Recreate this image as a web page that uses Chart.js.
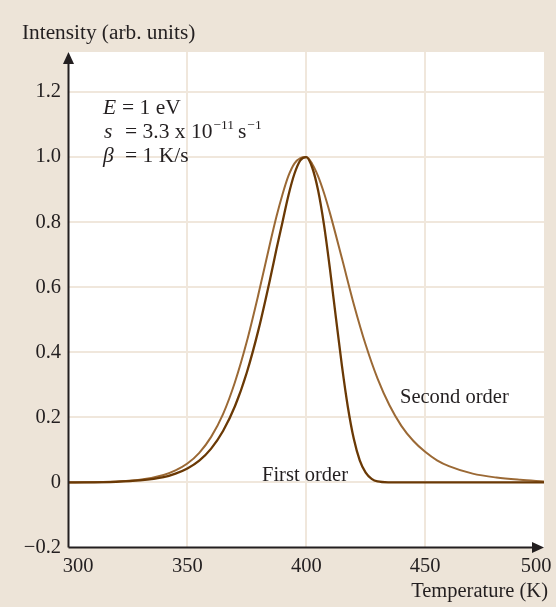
<!DOCTYPE html>
<html>
<head>
<meta charset="utf-8">
<script src="https://cdn.jsdelivr.net/npm/chart.js@4.4.1/dist/chart.umd.min.js"></script>
<style>
  body { margin: 0; background: #ede4d8; }
  #wrap { width: 556px; height: 607px; }
</style>
</head>
<body>
<div id="wrap"><canvas id="glow" width="556" height="607"></canvas></div>
<script>
// glow curves, E = 1 eV, beta = 1 K/s
var firstTemps = [300, 320, 330, 340, 345, 350, 355, 360, 365, 370, 375, 380, 385, 387.5, 390, 392.5, 395, 397.5, 400,
                  402.5, 405, 407.5, 410, 412.5, 415, 417.5, 420, 422.5, 425, 427.5, 430, 435, 440, 500];
var firstOrder = [0, 0.002, 0.006, 0.016, 0.027, 0.043, 0.067, 0.104, 0.158, 0.234, 0.338, 0.472, 0.632, 0.718, 0.80, 0.882, 0.948, 0.99, 1.0,
                  0.968, 0.897, 0.790, 0.654, 0.505, 0.359, 0.232, 0.134, 0.068, 0.030, 0.011, 0.003, 0.0002, 0, 0];

var secondTemps = [300, 320, 330, 340, 345, 350, 355, 360, 365, 370, 375, 380, 385, 387.5, 390, 392.5, 395, 397.5, 400,
                   402.5, 405, 407.5, 410, 415, 420, 425, 430, 435, 440, 445, 450, 455, 460, 470, 480, 490, 500];
var secondOrder = [0, 0.003, 0.008, 0.023, 0.037, 0.058, 0.091, 0.140, 0.210, 0.308, 0.433, 0.582, 0.742, 0.818, 0.885, 0.942, 0.980, 0.997, 1.0,
                   0.979, 0.941, 0.889, 0.827, 0.689, 0.548, 0.423, 0.319, 0.237, 0.174, 0.128, 0.094, 0.068, 0.050, 0.027, 0.015, 0.008, 0.003];

var xTicks = [300, 350, 400, 450, 500];

var beige = '#ede4d8';
var gridColor = '#f0e7dc';
var ink = '#231f20';
var serif = '"Liberation Serif", "DejaVu Serif", serif';

function toPoints(xs, ys) {
    var pts = [];
    for (i = 0; i < xs.length; i++) {
        pts.push({x: xs[i], y: ys[i]});
    }
    return pts;
}

var framePlugin = {
    id: 'frame',
    beforeDraw: function(chart) {
        var ctx = chart.ctx, a = chart.chartArea;
        ctx.save();
        ctx.fillStyle = beige;
        ctx.fillRect(0, 0, chart.width, chart.height);
        ctx.fillStyle = '#ffffff';
        ctx.fillRect(a.left, a.top, a.right - a.left, a.bottom - a.top);
        ctx.restore();
    },
    afterDraw: function(chart) {
        var ctx = chart.ctx, a = chart.chartArea;
        var xs = chart.scales.x;
        ctx.save();
        // axes with arrows
        ctx.strokeStyle = ink;
        ctx.fillStyle = ink;
        ctx.lineWidth = 2;
        ctx.beginPath();
        ctx.moveTo(a.left, a.bottom);
        ctx.lineTo(a.left, a.top + 8);
        ctx.moveTo(a.left, a.bottom);
        ctx.lineTo(a.right - 8, a.bottom);
        ctx.stroke();
        ctx.beginPath();
        ctx.moveTo(a.left, a.top);
        ctx.lineTo(a.left - 5.5, a.top + 12);
        ctx.lineTo(a.left + 5.5, a.top + 12);
        ctx.closePath();
        ctx.fill();
        ctx.beginPath();
        ctx.moveTo(a.right, a.bottom);
        ctx.lineTo(a.right - 12, a.bottom - 5.5);
        ctx.lineTo(a.right - 12, a.bottom + 5.5);
        ctx.closePath();
        ctx.fill();

        // x tick labels (end ones pulled inwards like the original)
        ctx.font = '20.5px ' + serif;
        ctx.textAlign = 'center';
        ctx.textBaseline = 'alphabetic';
        for (i = 0; i < xTicks.length; i++) {
            var px = xs.getPixelForValue(xTicks[i]);
            if (i == 0) px += 9.5;
            if (i == xTicks.length - 1) px -= 8;
            ctx.fillText(String(xTicks[i]), px, 572);
        }

        // axis titles
        ctx.textAlign = 'left';
        ctx.font = '21.3px ' + serif;
        ctx.fillText('Intensity (arb. units)', 22, 39);
        ctx.font = '20.5px ' + serif;
        ctx.textAlign = 'right';
        ctx.fillText('Temperature (K)', 548, 597);

        // curve labels
        ctx.textAlign = 'left';
        ctx.fillText('Second order', 400, 403);
        ctx.fillText('First order', 262, 481);

        // parameters
        var italic = 'italic 21.5px ' + serif;
        var roman = '21.5px ' + serif;
        var sup = '13.5px ' + serif;
        ctx.font = italic;
        ctx.fillText('E', 103, 114);
        ctx.fillText('s', 104, 137.5);
        ctx.fillText('\u03B2', 103, 161.5);
        ctx.font = roman;
        ctx.fillText('= 1 eV', 122, 114);
        ctx.fillText('= 1 K/s', 125, 161.5);
        var x = 125;
        var t = '= 3.3 x 10';
        ctx.fillText(t, x, 137.5);
        x += ctx.measureText(t).width + 1;
        ctx.font = sup;
        ctx.fillText('\u221211', x, 128.5);
        x += ctx.measureText('\u221211').width + 4;
        ctx.font = roman;
        ctx.fillText('s', x, 137.5);
        x += ctx.measureText('s').width + 1;
        ctx.font = sup;
        ctx.fillText('\u22121', x, 128.5);
        ctx.restore();
    }
};

var ctx = document.getElementById('glow').getContext('2d');
var chart = new Chart(ctx, {
    type: 'line',
    data: {
        datasets: [{
            label: 'First order',
            data: toPoints(firstTemps, firstOrder),
            borderColor: '#6a3905',
            borderWidth: 2.3,
            pointRadius: 0,
            cubicInterpolationMode: 'monotone'
        }, {
            label: 'Second order',
            data: toPoints(secondTemps, secondOrder),
            borderColor: '#9b6935',
            borderWidth: 2,
            pointRadius: 0,
            cubicInterpolationMode: 'monotone'
        }]
    },
    options: {
        responsive: false,
        animation: false,
        devicePixelRatio: 1,
        layout: { padding: { top: 52, right: 12, left: 0, bottom: 0 } },
        plugins: { legend: { display: false }, tooltip: { enabled: false } },
        scales: {
            x: {
                type: 'linear',
                min: 300,
                max: 500,
                afterFit: function(scale) { scale.height = 59.5; },
                ticks: { stepSize: 50, display: false },
                border: { display: false },
                grid: {
                    drawTicks: false,
                    lineWidth: 2,
                    color: function(c) {
                        var v = c.tick ? c.tick.value : 0;
                        return (v > 300 && v < 500) ? gridColor : 'rgba(0,0,0,0)';
                    }
                }
            },
            y: {
                type: 'linear',
                min: -0.2,
                max: 1.323,
                afterFit: function(scale) { scale.width = 68.5; },
                afterBuildTicks: function(scale) {
                    scale.ticks = scale.ticks.filter(function(t) { return t.value < 1.25; });
                },
                ticks: {
                    stepSize: 0.2,
                    padding: 7.5,
                    color: ink,
                    font: { family: serif, size: 20.5 },
                    callback: function(v) {
                        if (Math.abs(v) < 1e-9) return '0';
                        return (v < 0 ? '\u2212' : '') + Math.abs(v).toFixed(1);
                    }
                },
                border: { display: false },
                grid: {
                    drawTicks: false,
                    lineWidth: 2,
                    color: function(c) {
                        var v = c.tick ? c.tick.value : 0;
                        return v > -0.1 ? gridColor : 'rgba(0,0,0,0)';
                    }
                }
            }
        }
    },
    plugins: [framePlugin]
});
</script>
</body>
</html>
